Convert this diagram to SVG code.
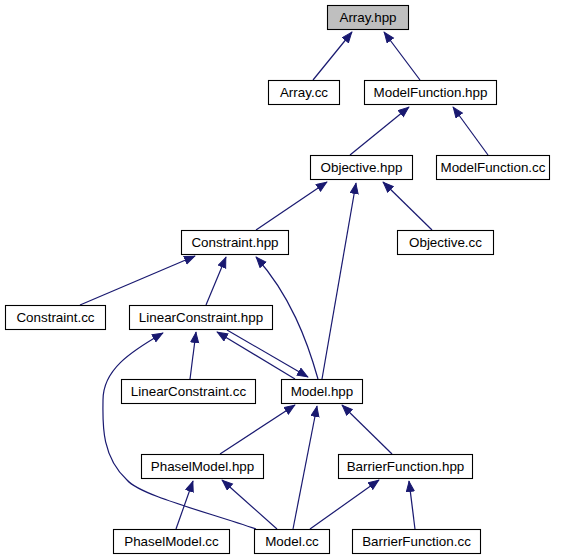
<svg xmlns="http://www.w3.org/2000/svg" width="567" height="560" viewBox="0 0 567 560">
<defs>
<marker id="ah" markerWidth="12" markerHeight="10" refX="11" refY="4.5" orient="auto" markerUnits="userSpaceOnUse">
<path d="M0.5,0.5 L10.5,4.5 L0.5,8.5 Z" fill="#191970" stroke="#191970" stroke-width="1"/>
</marker>
</defs>
<style>
.n rect{fill:#fff;stroke:#000;stroke-width:1.1}
.n text{font-family:"Liberation Sans",Arial,sans-serif;font-size:13.4px;text-anchor:middle;fill:#000}
.e path{fill:none;stroke:#191970;stroke-width:1.2;marker-end:url(#ah)}
</style>
<rect width="567" height="560" fill="#fff"/>
<g class="e" id="edges">
<path d="M313,80 L352,32"/>
<path d="M420,80 L384,32"/>
<path d="M350,155 L409,107"/>
<path d="M488,155 L453,107"/>
<path d="M256,230 L327,182"/>
<path d="M432,230 L383,182"/>
<path d="M322,379 L356,183"/>
<path d="M80,305 L195,256"/>
<path d="M206,305 L226,257"/>
<path d="M318,379 C307,340 290,295 256,257"/>
<path d="M190,379 L196,332"/>
<path d="M295,379 L217,332"/>
<path d="M227,330 L308,377"/>
<path d="M256,529 C200,510 140,495 127,480 C100,455 103,420 103,400 C103,370 130,352 163,333"/>
<path d="M220,454 L295,405"/>
<path d="M293,529 L317,406"/>
<path d="M392,454 L342,405"/>
<path d="M176,529 L193,481"/>
<path d="M277,529 L222,480"/>
<path d="M310,529 L379,480"/>
<path d="M415,529 L409,481"/>
</g>
<g class="n" id="n_array_hpp"><rect x="327.5" y="5.5" width="81" height="24" style="fill:#bfbfbf"/><text x="368" y="22">Array.hpp</text></g>
<g class="n" id="n_array_cc"><rect x="268.5" y="80.5" width="71" height="24"/><text x="304" y="97">Array.cc</text></g>
<g class="n" id="n_mf_hpp"><rect x="364.5" y="80.5" width="132" height="24"/><text x="430.5" y="97">ModelFunction.hpp</text></g>
<g class="n" id="n_obj_hpp"><rect x="310.5" y="155.5" width="102" height="24"/><text x="361.5" y="172">Objective.hpp</text></g>
<g class="n" id="n_mf_cc"><rect x="436.5" y="155.5" width="113" height="24"/><text x="493" y="172">ModelFunction.cc</text></g>
<g class="n" id="n_con_hpp"><rect x="181.5" y="230.5" width="107" height="24"/><text x="235" y="247">Constraint.hpp</text></g>
<g class="n" id="n_obj_cc"><rect x="397.5" y="230.5" width="96" height="24"/><text x="445.5" y="247">Objective.cc</text></g>
<g class="n" id="n_con_cc"><rect x="5.5" y="305.5" width="100" height="24"/><text x="55.5" y="322">Constraint.cc</text></g>
<g class="n" id="n_lc_hpp"><rect x="129.5" y="305.5" width="143" height="24"/><text x="201" y="322">LinearConstraint.hpp</text></g>
<g class="n" id="n_lc_cc"><rect x="121.5" y="379.5" width="134" height="24"/><text x="188.5" y="396">LinearConstraint.cc</text></g>
<g class="n" id="n_model_hpp"><rect x="281.5" y="379.5" width="81" height="24"/><text x="322" y="396">Model.hpp</text></g>
<g class="n" id="n_pm_hpp"><rect x="141.5" y="454.5" width="122" height="24"/><text x="202.5" y="471">PhaselModel.hpp</text></g>
<g class="n" id="n_bf_hpp"><rect x="338.5" y="454.5" width="134" height="24"/><text x="405.5" y="471">BarrierFunction.hpp</text></g>
<g class="n" id="n_pm_cc"><rect x="113.5" y="529.5" width="116" height="24"/><text x="171.5" y="546">PhaselModel.cc</text></g>
<g class="n" id="n_model_cc"><rect x="254.5" y="529.5" width="75" height="24"/><text x="292" y="546">Model.cc</text></g>
<g class="n" id="n_bf_cc"><rect x="352.5" y="529.5" width="128" height="24"/><text x="416.5" y="546">BarrierFunction.cc</text></g>
</svg>
